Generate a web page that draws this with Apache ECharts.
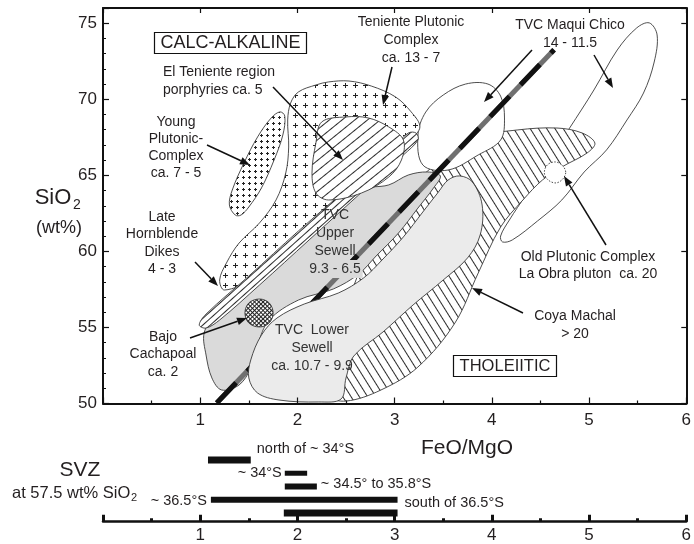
<!DOCTYPE html>
<html>
<head>
<meta charset="utf-8">
<script src="https://cdn.jsdelivr.net/npm/echarts@6/dist/echarts.min.js"></script>
<style>
  html, body { margin: 0; padding: 0; background: #fff; }
  #chart { width: 694px; height: 544px; }
</style>
</head>
<body>
<div id="chart"></div>
<script>
// ---- Field outlines in FeO/MgO (x) vs SiO2 wt% (y) ----
const coyaMachal = [[2.50,50.16],[2.86,50.89],[3.24,52.40],[3.62,55.29],[3.86,58.58],[4.09,61.60],[4.32,63.38],[4.52,64.69],[4.72,65.55],[4.98,66.47],[5.06,67.12],[4.93,67.78],[4.67,68.11],[4.26,67.98],[3.86,67.52],[3.55,66.34],[3.24,64.69],[2.99,62.72],[2.73,60.09],[2.53,56.80],[2.37,53.52],[2.32,50.56]];
const maquiChico = [[4.11,60.62],[4.21,60.75],[4.47,62.00],[4.72,63.38],[4.95,65.22],[5.18,66.67],[5.39,68.64],[5.56,70.41],[5.67,72.45],[5.70,74.23],[5.62,75.02],[5.49,74.69],[5.29,73.24],[5.05,70.61],[4.80,68.11],[4.55,65.68],[4.35,63.71],[4.18,62.06],[4.09,61.01]];
const maquiChicoLobe = [[3.24,67.65],[3.32,69.16],[3.50,70.28],[3.73,71.00],[3.96,71.00],[4.09,70.21],[4.13,68.77],[4.09,67.32],[3.86,66.34],[3.55,65.35],[3.29,65.68]];
const upperSewell = [[1.04,54.63],[1.06,53.19],[1.12,51.68],[1.22,50.89],[1.40,51.22],[1.52,52.33],[1.59,53.85],[1.71,55.49],[2.01,56.80],[2.37,57.53],[2.63,58.51],[2.81,59.70],[3.04,61.21],[3.24,62.85],[3.40,64.17],[3.47,64.96],[3.34,65.22],[3.14,65.02],[2.94,64.37],[2.63,64.00],[2.22,61.41],[1.81,59.57],[1.40,57.46],[1.15,55.82]];
const lowerSewell = [[1.52,52.86],[1.50,51.68],[1.59,50.69],[1.81,50.23],[2.22,50.10],[2.45,50.30],[2.50,51.68],[2.58,53.12],[2.88,54.70],[3.19,56.48],[3.50,58.12],[3.75,59.57],[3.88,61.08],[3.90,63.05],[3.80,64.56],[3.67,64.96],[3.55,64.69],[3.45,63.90],[3.29,62.59],[3.09,60.95],[2.87,59.43],[2.68,58.25],[2.42,57.26],[2.07,56.54],[1.79,55.62],[1.63,54.50]];
const tenientePlutonic = [[1.20,58.12],[1.27,59.24],[1.40,60.55],[1.61,61.87],[1.78,63.38],[1.88,65.15],[1.91,66.86],[1.90,68.64],[1.93,69.75],[2.01,70.48],[2.19,70.94],[2.32,71.14],[2.53,71.20],[2.76,70.87],[3.01,70.15],[3.17,69.17],[3.26,68.18],[3.16,67.32],[2.94,66.01],[2.53,63.71],[2.01,60.75],[1.55,58.25],[1.25,57.46]];
const tenientePorphyries = [[2.19,67.13],[2.25,68.51],[2.50,68.84],[2.73,68.77],[2.94,68.18],[3.09,67.32],[3.07,66.01],[2.94,64.89],[2.66,63.84],[2.32,63.38],[2.19,63.84],[2.15,65.15]];
const hornblendeDikes = [[0.99,55.16],[1.06,55.88],[1.50,58.38],[2.01,61.34],[2.53,64.23],[2.99,66.86],[3.14,67.78],[3.22,67.78],[3.24,67.32],[3.09,66.34],[2.63,63.71],[2.12,60.75],[1.61,57.79],[1.20,55.49],[1.06,54.96]];
const youngPlutonic = [[1.36,62.39],[1.30,63.05],[1.33,64.04],[1.45,65.81],[1.59,67.52],[1.73,68.77],[1.82,69.17],[1.87,68.90],[1.85,67.65],[1.76,66.01],[1.63,64.17],[1.50,62.92],[1.42,62.39]];
const bajoCachapoal = [[1.75,55.95],[1.71,56.61],[1.61,56.87],[1.50,56.61],[1.46,55.95],[1.50,55.29],[1.61,55.03],[1.71,55.29]];
const oldPlutonic = [[4.76,65.22],[4.72,65.68],[4.65,65.88],[4.57,65.68],[4.54,65.15],[4.58,64.69],[4.66,64.50],[4.73,64.76]];
// calc-alkaline / tholeiitic divide
const divideLine = [[1.17,50.03],[4.64,73.26]];

// ---- SVZ ranges of FeO/MgO at 57.5 wt% SiO2 ----
const svzLabels = ['north of ~ 34°S', '~ 34°S', '~ 34.5° to 35.8°S', '~ 36.5°S', 'south of 36.5°S'];
const svzFrom = [1.08, 1.87, 1.87, 1.11, 1.86];
const svzTo = [1.52, 2.10, 2.20, 3.03, 3.03];

const FONT = '"Liberation Sans", Arial, Helvetica, sans-serif';
const INK = '#231f20';
const UPPER_GREY = '#dadada';

// ---- fill patterns ----
function stripeTile(gap, lw) {
  const c = document.createElement('canvas');
  c.width = 8; c.height = gap;
  const g = c.getContext('2d');
  g.fillStyle = '#fff'; g.fillRect(0, 0, 8, gap);
  g.fillStyle = '#2a2a2a'; g.fillRect(0, Math.floor(gap / 2), 8, lw);
  return c;
}
function plusTile(size, arm) {
  const c = document.createElement('canvas');
  c.width = size; c.height = size;
  const g = c.getContext('2d');
  g.fillStyle = '#fff'; g.fillRect(0, 0, size, size);
  const m = Math.floor(size / 2);
  g.fillStyle = '#222';
  g.fillRect(m - arm, m, arm * 2 + 1, 1);
  g.fillRect(m, m - arm, 1, arm * 2 + 1);
  return c;
}
function gridTile(gap) {
  const c = document.createElement('canvas');
  c.width = gap; c.height = gap;
  const g = c.getContext('2d');
  g.fillStyle = '#fff'; g.fillRect(0, 0, gap, gap);
  g.fillStyle = '#222';
  g.fillRect(0, 0, gap, 1);
  g.fillRect(0, 0, 1, gap);
  return c;
}
const deg = Math.PI / 180;
const pat = (img, rot) => ({ image: img, repeat: 'repeat', rotation: rot || 0 });

// drawing order, bottom to top
const fields = [
  { name: 'TVC Maqui Chico', pts: maquiChico, fill: '#fff' },
  { name: 'Coya Machal', pts: coyaMachal, fill: pat(stripeTile(7, 1), 58 * deg) },
  { name: 'TVC Maqui Chico lobe', pts: maquiChicoLobe, fill: '#fff' },
  { name: 'TVC Upper Sewell', pts: upperSewell, fill: UPPER_GREY },
  { name: 'Teniente Plutonic Complex', pts: tenientePlutonic, fill: pat(plusTile(10, 2)) },
  { name: 'Late Hornblende Dikes', pts: hornblendeDikes, fill: pat(stripeTile(5, 1), -41.8 * deg) },
  { name: 'El Teniente porphyries', pts: tenientePorphyries, fill: pat(stripeTile(8, 1), -39 * deg) },
  { name: 'Young Plutonic Complex', pts: youngPlutonic, fill: pat(plusTile(6, 1)) },
  { name: 'divide', line: true },
  { name: 'TVC Lower Sewell', pts: lowerSewell, fill: '#ebebeb' },
  { name: 'Bajo Cachapoal', pts: bajoCachapoal, fill: pat(gridTile(3), 45 * deg) },
  { name: 'Old Plutonic Complex', pts: oldPlutonic, fill: '#fff', dotted: true }
];

const series = [];
fields.forEach((f, i) => {
  const z = 2 + i;
  if (f.line) {
    series.push({
      type: 'line', data: divideLine, xAxisIndex: 0, yAxisIndex: 0, symbol: 'none', silent: true, z,
      lineStyle: { color: '#707070', width: 5, cap: 'butt' }
    });
    series.push({
      type: 'line', data: divideLine, xAxisIndex: 0, yAxisIndex: 0, symbol: 'none', silent: true, z,
      lineStyle: { color: '#111', width: 5, type: [28, 16], cap: 'butt' }
    });
    return;
  }
  const pts = f.pts;
  series.push({
    type: 'custom', name: f.name, coordinateSystem: 'cartesian2d', xAxisIndex: 0, yAxisIndex: 0,
    data: pts, silent: true, z,
    renderItem(params, api) {
      if (params.dataIndex !== 0) return null;
      return {
        type: 'polygon',
        shape: { points: pts.map(p => api.coord(p)), smooth: 0.35 },
        style: { fill: f.fill, stroke: '#3a3a3a', lineWidth: 0.9, lineDash: f.dotted ? [1.5, 1.5] : null }
      };
    }
  });
});

// SVZ range bars
const barThick = [7, 5, 6, 6, 7];
const barLabel = [
  { side: 'right', dx: 6, dy: -11 },
  { side: 'left', dx: -3, dy: 0 },
  { side: 'right', dx: 4, dy: -2 },
  { side: 'left', dx: -4, dy: 1 },
  { side: 'right', dx: 7, dy: -10 }
];
series.push({
  type: 'custom', coordinateSystem: 'cartesian2d', xAxisIndex: 2, yAxisIndex: 3, silent: true, z: 20,
  encode: { x: [0, 1], y: 2 },
  data: svzLabels.map((s, i) => [svzFrom[i], svzTo[i], i]),
  renderItem(params, api) {
    const i = params.dataIndex;
    const a = api.coord([api.value(0), api.value(2)]);
    const b = api.coord([api.value(1), api.value(2)]);
    const h = barThick[i];
    const L = barLabel[i];
    const tx = L.side === 'right' ? b[0] + L.dx : a[0] + L.dx;
    return {
      type: 'group',
      children: [
        { type: 'rect', shape: { x: a[0], y: a[1] - h / 2, width: b[0] - a[0], height: h }, style: { fill: '#111' } },
        { type: 'text', x: tx, y: a[1] + L.dy,
          style: { text: svzLabels[i], font: '14.5px ' + FONT, fill: INK,
                   align: L.side === 'right' ? 'left' : 'right', verticalAlign: 'middle',
                   textAlign: L.side === 'right' ? 'left' : 'right', textVerticalAlign: 'middle' } }
      ]
    };
  }
});

// ---- annotations ----
function txt(text, x, y, size, align, lh, color, bg) {
  align = align || 'center';
  const style = { text, font: size + 'px ' + FONT, fill: color || INK, align, verticalAlign: 'middle',
                  textAlign: align, textVerticalAlign: 'middle', lineHeight: lh || Math.round(size * 1.25) };
  if (bg) { style.backgroundColor = bg; style.padding = [0, 2]; }
  return { type: 'text', x, y, z: 100, style };
}
function arrow(x1, y1, x2, y2) {
  const a = Math.atan2(y2 - y1, x2 - x1), L = 10, W = 3.8;
  const bx = x2 - L * Math.cos(a), by = y2 - L * Math.sin(a);
  return [
    { type: 'line', z: 100, shape: { x1, y1, x2: bx, y2: by }, style: { stroke: '#111', lineWidth: 1.5 } },
    { type: 'polygon', z: 100, shape: { points: [[x2, y2], [bx + W * Math.sin(a), by - W * Math.cos(a)], [bx - W * Math.sin(a), by + W * Math.cos(a)]] }, style: { fill: '#111' } }
  ];
}
function box(x, y, w, h) {
  return { type: 'rect', z: 99, shape: { x, y, width: w, height: h }, style: { fill: '#fff', stroke: '#111', lineWidth: 1.2 } };
}

const graphics = [
  box(154.5, 32.5, 152, 21), txt('CALC-ALKALINE', 230.5, 43.5, 18),
  box(453.5, 355.5, 103, 21), txt('THOLEIITIC', 505, 366.5, 16.5),
  txt('El Teniente region\nporphyries ca. 5', 163, 81, 14, 'left', 18),
  txt('Young\nPlutonic-\nComplex\nca. 7 - 5', 176, 147.5, 14, 'center', 17.2),
  txt('Late\nHornblende\nDikes\n4 - 3', 162, 243, 14, 'center', 17.3),
  txt('Bajo\nCachapoal\nca. 2', 163, 354.5, 14, 'center', 17.5),
  txt('TVC\nUpper\nSewell', 335, 233, 14, 'center', 18, '#333'),
  txt('9.3 - 6.5', 335, 269, 14, 'center', 18, '#333', UPPER_GREY),
  txt('TVC  Lower\nSewell\nca. 10.7 - 9.9', 312, 348, 14, 'center', 18, '#333'),
  txt('Teniente Plutonic\nComplex\nca. 13 - 7', 411, 40, 14, 'center', 18),
  txt('TVC Maqui Chico\n14 - 11.5', 570, 34, 14, 'center', 18),
  txt('Old Plutonic Complex\nLa Obra pluton  ca. 20', 588, 265.5, 14, 'center', 17.5),
  txt('Coya Machal\n> 20', 575, 325, 14, 'center', 18),
  txt('SiO', 53, 198, 22), txt('2', 77, 205, 14),
  txt('(wt%)', 59, 228, 18),
  txt('FeO/MgO', 467, 448, 21),
  txt('SVZ', 80, 470, 21),
  txt('at 57.5 wt% SiO', 12, 493, 16.5, 'left'), txt('2', 131, 498, 11, 'left'),
  ...arrow(207, 145, 250, 165),
  ...arrow(273, 87, 343, 160),
  ...arrow(195, 262, 218, 286),
  ...arrow(190, 338, 247, 318),
  ...arrow(392, 67, 383, 105),
  ...arrow(532, 50, 484, 102),
  ...arrow(594, 55, 613, 88),
  ...arrow(606, 245, 564, 176),
  ...arrow(523, 313, 472, 288)
];

const axisLine = { show: true, onZero: false, lineStyle: { color: '#111', width: 2 } };
const hideZero = v => (v === 0 ? '' : String(v));
const labelStyle = { color: INK, fontSize: 17, fontFamily: FONT };

const option = {
  animation: false,
  backgroundColor: '#fff',
  grid: [
    { left: 103, right: 4, top: 8, bottom: 140.5 },
    { left: 103, right: 4, top: 446.75, bottom: 22.3 }
  ],
  xAxis: [
    { gridIndex: 0, type: 'value', position: 'bottom', min: 0, max: 6, interval: 1, z: 30,
      axisLine, splitLine: { show: false },
      axisTick: { inside: true, length: 6, lineStyle: { color: '#111', width: 1.2 } },
      minorTick: { show: true, splitNumber: 2, length: 3, lineStyle: { color: '#111', width: 1.2 } },
      axisLabel: { ...labelStyle, margin: 8, formatter: hideZero } },
    { gridIndex: 0, type: 'value', position: 'top', min: 0, max: 6, interval: 1, z: 30,
      axisLine, splitLine: { show: false },
      axisTick: { inside: true, length: 5, lineStyle: { color: '#111', width: 1.2 } },
      axisLabel: { show: false } },
    { gridIndex: 1, type: 'value', position: 'bottom', min: 0, max: 6, interval: 1, z: 30,
      axisLine: { show: true, onZero: false, lineStyle: { color: '#111', width: 2.5 } }, splitLine: { show: false },
      axisTick: { inside: true, length: 7, lineStyle: { color: '#111', width: 3 } },
      minorTick: { show: true, splitNumber: 2, length: 3.5, lineStyle: { color: '#111', width: 3 } },
      axisLabel: { ...labelStyle, margin: 5, formatter: hideZero } }
  ],
  yAxis: [
    { gridIndex: 0, type: 'value', position: 'left', min: 50, max: 76, interval: 5, z: 30,
      axisLine, splitLine: { show: false },
      axisTick: { inside: true, length: 6, lineStyle: { color: '#111', width: 1.2 } },
      axisLabel: { ...labelStyle, margin: 6, formatter: v => (v % 5 === 0 ? String(v) : '') } },
    { gridIndex: 0, type: 'value', position: 'left', min: 50, max: 76, interval: 1, z: 29,
      axisLine: { show: false }, splitLine: { show: false },
      axisTick: { inside: true, length: 3, lineStyle: { color: '#111', width: 1 } },
      axisLabel: { show: false } },
    { gridIndex: 0, type: 'value', position: 'right', min: 50, max: 76, interval: 5, z: 30,
      axisLine, splitLine: { show: false },
      axisTick: { inside: true, length: 5, lineStyle: { color: '#111', width: 1.2 } },
      axisLabel: { show: false } },
    { gridIndex: 1, type: 'value', min: -1, max: 4.66, inverse: true, show: false }
  ],
  series,
  graphic: { elements: graphics }
};

const chart = echarts.init(document.getElementById('chart'));
chart.setOption(option);
</script>
</body>
</html>
